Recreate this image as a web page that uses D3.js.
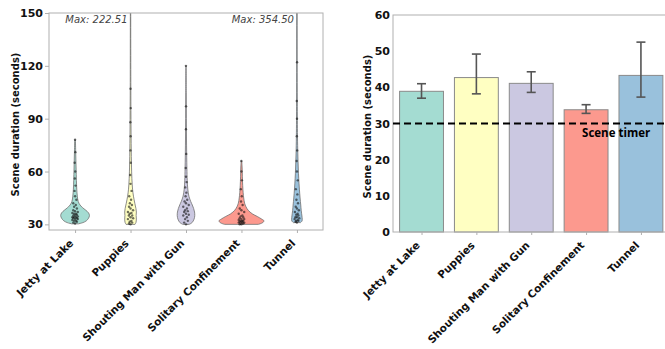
<!DOCTYPE html>
<html>
<head>
<meta charset="utf-8">
<script src="https://cdn.jsdelivr.net/npm/d3@7"></script>
<style>
  body { margin: 0; background: #fff; }
  svg text { font-family: 'DejaVu Sans', sans-serif; }
</style>
</head>
<body>
<div id="chart"></div>
<script>
// scene names
const scenes = ['Jetty at Lake', 'Puppies', 'Shouting Man with Gun', 'Solitary Confinement', 'Tunnel'];
const colors = ['#8dd3c7', '#ffffb3', '#bebada', '#fb8072', '#80b1d3'];

// violin outlines: [duration, relative density]
const jettyDensity = [[30.3, 0.15], [31, 0.35], [32, 0.5], [33.5, 0.6], [35, 0.64], [36.5, 0.6], [38, 0.48], [39.5, 0.33], [41, 0.22], [43, 0.14], [46, 0.1], [50, 0.075], [55, 0.06], [62, 0.045], [70, 0.03], [78, 0.015]];
const puppiesDensity = [[30, 0.2], [31, 0.24], [33, 0.26], [35, 0.25], [37, 0.26], [39, 0.24], [42, 0.19], [46, 0.13], [50, 0.09], [56, 0.06], [65, 0.04], [80, 0.025], [100, 0.015], [130, 0.01], [180, 0.006], [222.51, 0.004]];
const shoutingDensity = [[30, 0.14], [31, 0.27], [33, 0.36], [35, 0.39], [37, 0.38], [39, 0.34], [41, 0.28], [43, 0.21], [46, 0.13], [50, 0.08], [55, 0.055], [62, 0.04], [75, 0.025], [90, 0.015], [105, 0.01], [120, 0.006]];
const solitaryDensity = [[30, 0.75], [31, 0.95], [32, 1.0], [33, 0.9], [34.5, 0.7], [36, 0.48], [38, 0.3], [40, 0.2], [42, 0.14], [45, 0.1], [48, 0.075], [52, 0.055], [57, 0.04], [62, 0.03], [66, 0.015]];
const tunnelDensity = [[31, 0.16], [32, 0.23], [34, 0.23], [36, 0.21], [38, 0.19], [41, 0.17], [45, 0.14], [50, 0.11], [56, 0.08], [62, 0.06], [70, 0.04], [80, 0.025], [100, 0.015], [150, 0.008], [250, 0.005], [354.5, 0.003]];

// individual scene durations (seconds)
const jettyDurations = [30.5, 31, 31.5, 32, 32, 32.5, 33, 33, 33.5, 33.5, 34, 34, 34, 34.5, 35, 35, 35.5, 36, 36, 36.5, 37, 37.5, 38, 39, 40, 41, 42, 44, 46, 49, 52, 56, 60, 65, 71, 78];
const puppiesDurations = [30, 30.5, 31, 31.5, 32, 33, 33.5, 34, 35, 35, 36, 36.5, 37, 38, 39, 40, 41, 42, 44, 46, 49, 53, 58, 65, 72, 80, 88, 96, 107, 222.51];
const shoutingDurations = [30, 31, 32, 33, 34, 35, 35.5, 36, 37, 37.5, 38, 39, 40, 41, 42, 43, 44, 46, 48, 51, 54, 57, 62, 70, 84, 97, 120];
const solitaryDurations = [30, 30, 30.5, 30.5, 31, 31, 31, 31.5, 31.5, 32, 32, 32, 32.5, 33, 33, 33.5, 34, 34.5, 35, 36, 37, 38, 39, 41, 43, 46, 50, 55, 60, 66];
const tunnelDurations = [31, 31.5, 32, 32, 32.5, 33, 33.5, 34, 34, 35, 35.5, 36, 37, 38, 39, 40, 42, 44, 47, 50, 55, 60, 66, 72, 80, 90, 100, 122, 354.5];

// bar chart: mean and confidence interval
const meanDuration = [38.9, 42.7, 41.1, 33.8, 43.3];
const ciLow = [37.0, 38.2, 38.6, 32.8, 37.3];
const ciHigh = [41.0, 49.2, 44.3, 35.2, 52.5];
const sceneTimer = 30;

const leftTicks = [30, 60, 90, 120, 150];
const rightTicks = [0, 10, 20, 30, 40, 50, 60];

const densities = [jettyDensity, puppiesDensity, shoutingDensity, solitaryDensity, tunnelDensity];
const durations = [jettyDurations, puppiesDurations, shoutingDurations, solitaryDurations, tunnelDurations];

const svg = d3.select('#chart').append('svg').attr('width', 665).attr('height', 349);
svg.append('rect').attr('width', 665).attr('height', 349).attr('fill', '#fff');

const frameL = {left: 49, right: 323, top: 13, bottom: 230};
const frameR = {left: 393, right: 670, top: 15, bottom: 232};

// ---------- left: violins ----------
const x = d3.scaleLinear().domain([-0.47, 4.47]).range([frameL.left, frameL.right]);
const y = d3.scaleLinear().domain([26.8, 150]).range([frameL.bottom, frameL.top]);
const halfW = 0.405; // category units at density 1

svg.append('clipPath').attr('id', 'clipL').append('rect')
  .attr('x', frameL.left).attr('y', frameL.top)
  .attr('width', frameL.right - frameL.left).attr('height', frameL.bottom - frameL.top);

const violinBlock = svg.append('g').attr('clip-path', 'url(#clipL)');
densities.forEach(function (dens, i) {
  const area = d3.area().curve(d3.curveCatmullRom)
    .y(function (d) { return y(d[0]); })
    .x0(function (d) { return x(i - d[1] * halfW); })
    .x1(function (d) { return x(i + d[1] * halfW); });
  violinBlock.append('path').datum(dens).attr('d', area)
    .attr('fill', colors[i]).attr('fill-opacity', 0.8)
    .attr('stroke', '#707070').attr('stroke-width', 0.8);

  // strip of points, small deterministic spread
  const widthAt = d3.scaleLinear().domain(dens.map(function (d) { return d[0]; })).range(dens.map(function (d) { return d[1]; })).clamp(true);
  const spread = [0, -0.6, 0.6, -0.3, 0.3, -0.9, 0.9];
  violinBlock.append('g').selectAll('circle').data(durations[i]).enter().append('circle')
    .attr('cx', function (d, k) { return x(i + spread[k % spread.length] * Math.min(widthAt(d) * halfW * 0.5, 0.055)); })
    .attr('cy', function (d) { return y(d); })
    .attr('r', 1.2)
    .attr('fill', '#111').attr('fill-opacity', 0.6);
});

// max labels for points above the axis
durations.forEach(function (vals, i) {
  const mx = d3.max(vals);
  if (mx > y.domain()[1]) {
    svg.append('text').attr('x', x(i) - 3).attr('y', frameL.top + 10)
      .attr('text-anchor', 'end').attr('font-size', 10).attr('font-style', 'italic')
      .attr('fill', '#444').text('Max: ' + mx.toFixed(2));
  }
});

svg.append('rect').attr('x', frameL.left).attr('y', frameL.top)
  .attr('width', frameL.right - frameL.left).attr('height', frameL.bottom - frameL.top)
  .attr('fill', 'none').attr('stroke', '#b0b0b0').attr('stroke-width', 1);

const yAxisL = svg.append('g').attr('transform', 'translate(' + frameL.left + ',0)')
  .call(d3.axisLeft(y).tickValues(leftTicks).tickSize(4).tickPadding(2));
yAxisL.select('.domain').remove();
yAxisL.selectAll('line').attr('stroke', '#b0b0b0');
yAxisL.selectAll('text').attr('font-size', 11).attr('font-weight', 'bold').attr('fill', '#111');

const xAxisL = svg.append('g').attr('transform', 'translate(0,' + frameL.bottom + ')')
  .call(d3.axisBottom(x).tickValues(d3.range(scenes.length)).tickSize(3).tickFormat(function (d) { return scenes[d]; }));
xAxisL.select('.domain').remove();
xAxisL.selectAll('line').attr('stroke', '#b0b0b0');
xAxisL.selectAll('text').attr('font-size', 10.5).attr('font-weight', 'bold').attr('fill', '#111')
  .attr('text-anchor', 'end').attr('dy', 0).attr('y', 0)
  .attr('transform', 'translate(-1.5,14) rotate(-45)');

svg.append('text').attr('transform', 'translate(19,' + ((frameL.top + frameL.bottom) / 2 + 3) + ') rotate(-90)')
  .attr('text-anchor', 'middle').attr('font-size', 10).attr('font-weight', 'bold').attr('fill', '#111')
  .text('Scene duration (seconds)');

// ---------- right: bars ----------
const xb = d3.scaleLinear().domain([-0.52, 4.53]).range([frameR.left, frameR.right]);
const yb = d3.scaleLinear().domain([0, 60]).range([frameR.bottom, frameR.top]);
const barW = 0.8;

const barBlock = svg.append('g');
barBlock.selectAll('rect').data(meanDuration).enter().append('rect')
  .attr('x', function (d, i) { return xb(i - barW / 2); })
  .attr('y', function (d) { return yb(d); })
  .attr('width', xb(barW) - xb(0))
  .attr('height', function (d) { return yb(0) - yb(d); })
  .attr('fill', function (d, i) { return colors[i]; }).attr('fill-opacity', 0.8)
  .attr('stroke', '#8a8a8a').attr('stroke-width', 1);

const errBlock = svg.append('g').attr('stroke', '#555').attr('stroke-width', 1.6);
meanDuration.forEach(function (m, i) {
  const cx = xb(i);
  errBlock.append('line').attr('x1', cx).attr('x2', cx).attr('y1', yb(ciLow[i])).attr('y2', yb(ciHigh[i]));
  errBlock.append('line').attr('x1', cx - 4.5).attr('x2', cx + 4.5).attr('y1', yb(ciLow[i])).attr('y2', yb(ciLow[i]));
  errBlock.append('line').attr('x1', cx - 4.5).attr('x2', cx + 4.5).attr('y1', yb(ciHigh[i])).attr('y2', yb(ciHigh[i]));
});

svg.append('rect').attr('x', frameR.left).attr('y', frameR.top)
  .attr('width', frameR.right - frameR.left).attr('height', frameR.bottom - frameR.top)
  .attr('fill', 'none').attr('stroke', '#b0b0b0').attr('stroke-width', 1);

// scene timer reference line
svg.append('line').attr('x1', frameR.left).attr('x2', frameR.right)
  .attr('y1', yb(sceneTimer)).attr('y2', yb(sceneTimer))
  .attr('stroke', '#000').attr('stroke-width', 2).attr('stroke-dasharray', '7,4');
svg.append('text').attr('x', xb(3) - 4).attr('y', yb(sceneTimer) + 13)
  .style('font-family', "'Open Sans', sans-serif").attr('font-size', 11.5).attr('font-weight', 'bold')
  .attr('fill', '#000').text('Scene timer');

const yAxisR = svg.append('g').attr('transform', 'translate(' + frameR.left + ',0)')
  .call(d3.axisLeft(yb).tickValues(rightTicks).tickSize(0).tickPadding(3));
yAxisR.select('.domain').remove();
yAxisR.selectAll('text').attr('font-size', 11).attr('font-weight', 'bold').attr('fill', '#111');

const xAxisR = svg.append('g').attr('transform', 'translate(0,' + frameR.bottom + ')')
  .call(d3.axisBottom(xb).tickValues(d3.range(scenes.length)).tickSize(3).tickFormat(function (d) { return scenes[d]; }));
xAxisR.select('.domain').remove();
xAxisR.selectAll('line').attr('stroke', '#b0b0b0');
xAxisR.selectAll('text').attr('font-size', 10.5).attr('font-weight', 'bold').attr('fill', '#111')
  .attr('text-anchor', 'end').attr('dy', 0).attr('y', 0)
  .attr('transform', 'translate(-1.5,14) rotate(-45)');

svg.append('text').attr('transform', 'translate(371,' + ((frameR.top + frameR.bottom) / 2 + 3) + ') rotate(-90)')
  .attr('text-anchor', 'middle').attr('font-size', 10).attr('font-weight', 'bold').attr('fill', '#111')
  .text('Scene duration (seconds)');
</script>
</body>
</html>
